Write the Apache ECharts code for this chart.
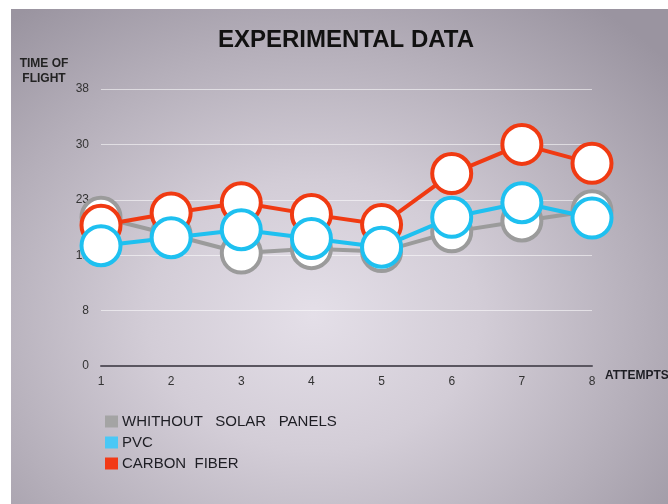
<!DOCTYPE html>
<html>
<head>
<meta charset="utf-8">
<script src="https://cdn.jsdelivr.net/npm/echarts@6/dist/echarts.min.js"></script>
<style>
  html, body { margin: 0; padding: 0; background: #ffffff; }
  #wrap { position: relative; width: 668px; height: 504px; overflow: hidden; }
  #bg {
    position: absolute; left: 11px; top: 9px; right: 0; bottom: 0;
    background: radial-gradient(ellipse 72% 78% at 46% 62%, #e4dfe8 0%, #d3cdd7 35%, #b5afba 70%, #9a94a0 100%);
  }
  #chart { position: absolute; left: 0; top: 0; width: 668px; height: 504px; }
</style>
</head>
<body>
<div id="wrap">
  <div id="bg"></div>
  <div id="chart"></div>
</div>
<script>
// Attempt numbers along the x axis
const attempts = ['1', '2', '3', '4', '5', '6', '7', '8'];

// Time of flight per attempt for each build
const withoutPanels = [20.4, 18.0, 15.5, 16.1, 15.7, 18.4, 19.9, 21.3];
const pvc = [16.5, 17.6, 18.7, 17.5, 16.3, 20.4, 22.4, 20.3];
const carbonFiber = [19.3, 21.0, 22.4, 20.8, 19.4, 26.4, 30.4, 27.8];

// Series names as shown in the legend
const seriesNames = ['WHITHOUT   SOLAR   PANELS', 'PVC', 'CARBON  FIBER'];

// Y axis tick labels (ticks every 7.6 up to 38)
const yTickLabels = ['0', '8', '15', '23', '30', '38'];
const yMax = 38;
const yStep = 7.6;

const colors = {
  gray: '#9b9b9b',
  blue: '#1ec0f0',
  red: '#f03a12'
};
const legendColors = ['#a4a4a4', '#4ac8f6', '#f23a16'];

function lineSeries(name, data, color, z) {
  return {
    name: name,
    type: 'line',
    data: data,
    z: z,
    symbol: 'circle',
    symbolSize: 39,
    lineStyle: { color: color, width: 4 },
    itemStyle: { color: '#ffffff', borderColor: color, borderWidth: 4 },
    emphasis: { disabled: true },
    animation: false
  };
}

const chart = echarts.init(document.getElementById('chart'), null, { renderer: 'canvas' });

chart.setOption({
  backgroundColor: 'transparent',
  animation: false,
  textStyle: { fontFamily: 'Liberation Sans, Arial, sans-serif' },
  graphic: [
    {
      type: 'text',
      x: 346, y: 40,
      style: {
        text: 'EXPERIMENTAL DATA',
        fill: '#111111',
        font: 'bold 24px "Liberation Sans", Arial, sans-serif',
        textAlign: 'center',
        textVerticalAlign: 'middle'
      }
    },
    {
      type: 'text',
      x: 44, y: 56,
      style: {
        text: 'TIME OF\nFLIGHT',
        fill: '#222222',
        font: 'bold 12px "Liberation Sans", Arial, sans-serif',
        textAlign: 'center',
        lineHeight: 15
      }
    }
  ],
  legend: {
    orient: 'vertical',
    left: 100,
    top: 409,
    itemWidth: 13,
    itemHeight: 12,
    itemGap: 6,
    icon: 'rect',
    selectedMode: false,
    itemStyle: { borderWidth: 0 },
    textStyle: { color: '#1e1e24', fontSize: 15, padding: [0, 0, 0, -1] },
    data: seriesNames.map((n, i) => ({ name: n, itemStyle: { color: legendColors[i], borderWidth: 0 } }))
  },
  grid: { left: 101, right: 76, top: 89, bottom: 138, containLabel: false, outerBoundsMode: 'none' },
  xAxis: {
    type: 'category',
    data: attempts,
    boundaryGap: false,
    name: 'ATTEMPTS',
    nameLocation: 'end',
    nameGap: 13,
    nameTextStyle: { color: '#1e1e24', fontSize: 12, fontWeight: 'bold', verticalAlign: 'top', padding: [4, 0, 0, 0] },
    axisLine: { lineStyle: { color: '#5a5660', width: 2 } },
    axisTick: { show: false },
    axisLabel: { color: '#333333', fontSize: 12, margin: 10 },
    splitLine: { show: false }
  },
  yAxis: {
    type: 'value',
    min: 0,
    max: yMax,
    interval: yStep,
    axisLine: { show: false },
    axisTick: { show: false },
    axisLabel: {
      color: '#333333', fontSize: 12, margin: 12,
      formatter: v => yTickLabels[Math.round(v / yStep)] || ''
    },
    splitLine: { lineStyle: { color: 'rgba(255,255,255,0.55)', width: 1 } }
  },
  series: [
    lineSeries(seriesNames[0], withoutPanels, colors.gray, 2),
    lineSeries(seriesNames[1], pvc, colors.blue, 4),
    lineSeries(seriesNames[2], carbonFiber, colors.red, 3)
  ]
});
</script>
</body>
</html>
